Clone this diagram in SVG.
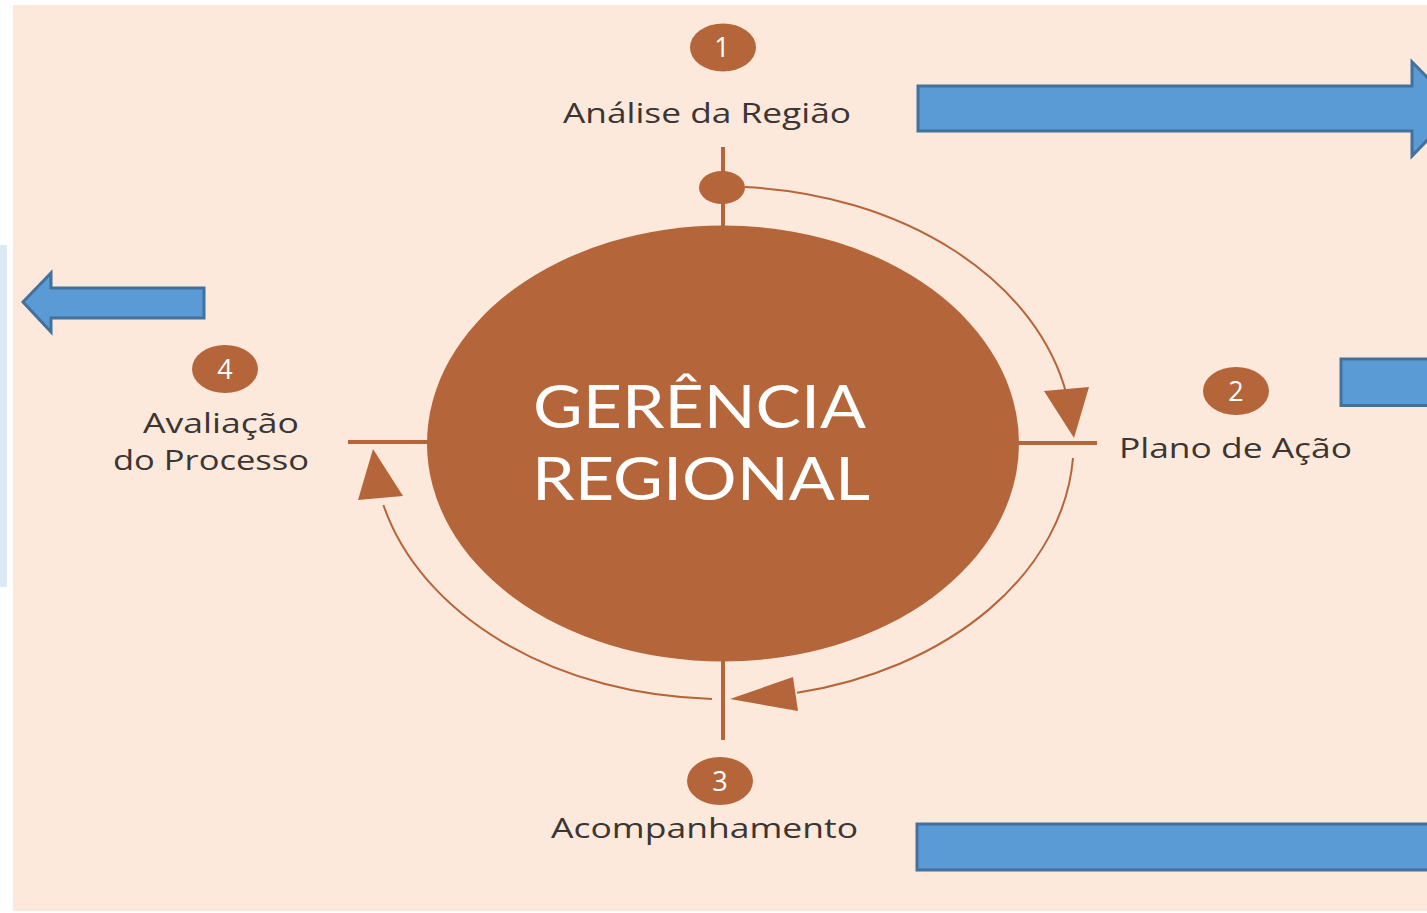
<svg xmlns="http://www.w3.org/2000/svg" width="1427" height="913" viewBox="0 0 1427 913">
<defs>
<style>
.lbl{font-family:"Open Sans","Liberation Sans",sans-serif;font-size:28px;fill:#3b3534;}
.num{font-family:"Open Sans","Liberation Sans",sans-serif;font-size:27px;fill:#ffffff;text-anchor:middle;}
.badge{fill:#b5653a;}
.brown{fill:#b5653a;}
.axis{stroke:#b5653a;stroke-width:4;fill:none;}
.arc{stroke:#b5653a;stroke-width:2;fill:none;}
.blue{fill:#5b9bd5;stroke:#41719c;stroke-width:3;}
.title{font-family:Lato,"Open Sans","Liberation Sans",sans-serif;font-size:60px;fill:#ffffff;}
</style>
</defs>
<rect x="0" y="0" width="1427" height="913" fill="#ffffff"/>
<rect x="13" y="5" width="1414" height="906" fill="#fde9db"/>
<rect x="0" y="245" width="7" height="342" fill="#dde8f5"/>

<g id="connectors">
<line class="axis" x1="723" y1="147" x2="723" y2="230"/>
<line class="axis" x1="723" y1="658" x2="723" y2="740"/>
<line class="axis" x1="348" y1="442" x2="430" y2="442"/>
<line class="axis" x1="1016" y1="443" x2="1097" y2="443"/>
<path class="arc" d="M 745 187.1 A 350 256 0 0 1 1066.7 395"/>
<polygon class="brown" points="1044,391 1089,387 1074,438"/>
<path class="arc" d="M 1073 458 A 350 256 0 0 1 797 692.8"/>
<polygon class="brown" points="730,699 793,677 798,711"/>
<path class="arc" d="M 712 698.9 A 350 256 0 0 1 383.4 505"/>
<polygon class="brown" points="373,449 358,500 403,496"/>
</g>

<g id="center">
<ellipse class="brown" cx="723" cy="443.5" rx="296" ry="218"/>
<text class="title" x="533" y="428" textLength="333" lengthAdjust="spacingAndGlyphs">GERÊNCIA</text>
<text class="title" x="532" y="500" textLength="338" lengthAdjust="spacingAndGlyphs">REGIONAL</text>
</g>

<g id="top-dot">
<ellipse class="brown" cx="722" cy="187.5" rx="23" ry="16.5"/>
</g>

<g id="step1">
<ellipse class="badge" cx="723" cy="47.5" rx="33" ry="24"/>
<text class="num" x="722" y="57">1</text>
<text class="lbl" x="563" y="123" textLength="288" lengthAdjust="spacingAndGlyphs">Análise da Região</text>
</g>

<g id="step2">
<ellipse class="badge" cx="1236" cy="391" rx="33" ry="24"/>
<text class="num" x="1236" y="401">2</text>
<text class="lbl" x="1119" y="458" textLength="233" lengthAdjust="spacingAndGlyphs">Plano de Ação</text>
</g>

<g id="step3">
<ellipse class="badge" cx="720" cy="781" rx="33" ry="24"/>
<text class="num" x="720" y="791">3</text>
<text class="lbl" x="551" y="838" textLength="307" lengthAdjust="spacingAndGlyphs">Acompanhamento</text>
</g>

<g id="step4">
<ellipse class="badge" cx="225" cy="369" rx="33" ry="24"/>
<text class="num" x="225" y="379">4</text>
<text class="lbl" x="143" y="433" textLength="156" lengthAdjust="spacingAndGlyphs">Avaliação</text>
<text class="lbl" x="113" y="470" textLength="196" lengthAdjust="spacingAndGlyphs">do Processo</text>
</g>

<g id="arrow-top">
<polygon class="blue" points="918,86 1412,86 1412,62 1458,108.5 1412,156 1412,131 918,131"/>
</g>
<g id="bar-right">
<rect class="blue" x="1341" y="359" width="100" height="46.5"/>
</g>
<g id="bar-bottom">
<rect class="blue" x="917" y="824" width="520" height="46"/>
</g>
<g id="arrow-left">
<polygon class="blue" points="204,288 51,288 51,273 23,302 51,332 51,318 204,318"/>
</g>
</svg>
